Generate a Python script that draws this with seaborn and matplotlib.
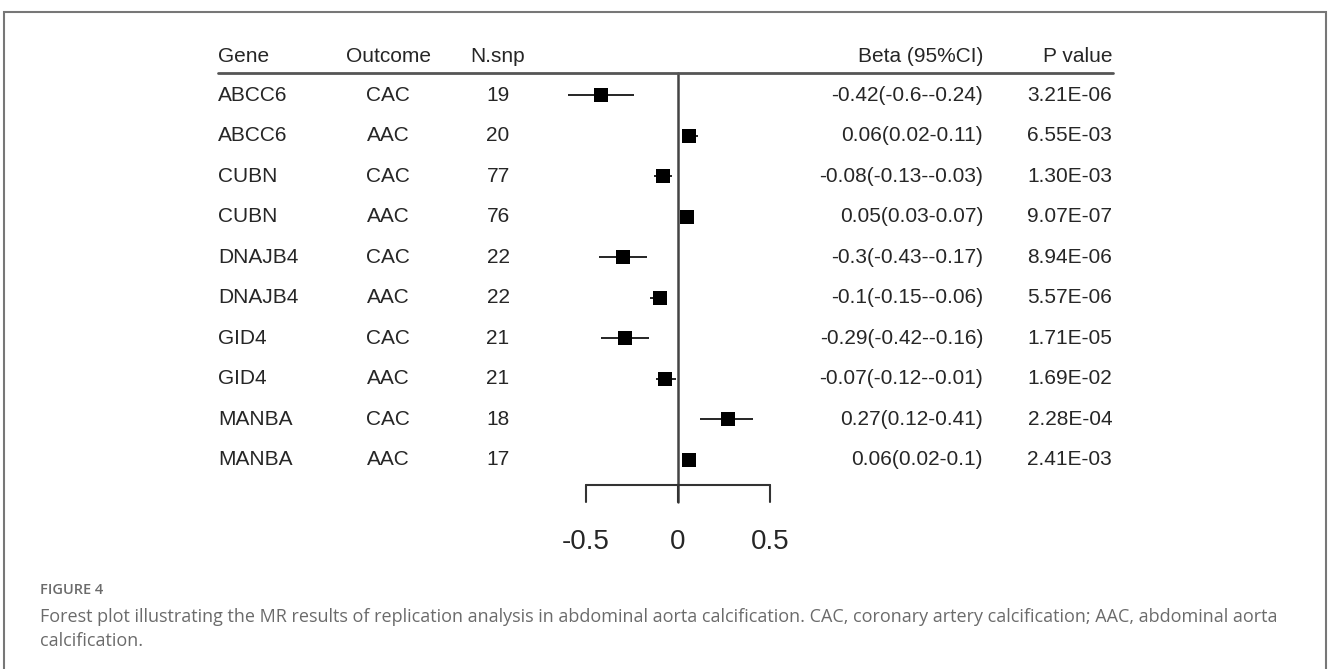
import matplotlib as mpl
import matplotlib.pyplot as plt
import seaborn as sns
import pandas as pd
import numpy as np
from matplotlib.patches import Rectangle

sns.set_style("white")
plt.rcParams['font.family'] = ['Liberation Sans', 'DejaVu Sans']

# Data
genes = ["ABCC6", "ABCC6", "CUBN", "CUBN", "DNAJB4", "DNAJB4", "GID4", "GID4", "MANBA", "MANBA"]
outcomes = ["CAC", "AAC", "CAC", "AAC", "CAC", "AAC", "CAC", "AAC", "CAC", "AAC"]
n_snp = [19, 20, 77, 76, 22, 22, 21, 21, 18, 17]
beta = [-0.42, 0.06, -0.08, 0.05, -0.3, -0.1, -0.29, -0.07, 0.27, 0.06]
ci_low = [-0.6, 0.02, -0.13, 0.03, -0.43, -0.15, -0.42, -0.12, 0.12, 0.02]
ci_high = [-0.24, 0.11, -0.03, 0.07, -0.17, -0.06, -0.16, -0.01, 0.41, 0.1]
beta_text = ["-0.42(-0.6--0.24)", "0.06(0.02-0.11)", "-0.08(-0.13--0.03)", "0.05(0.03-0.07)",
             "-0.3(-0.43--0.17)", "-0.1(-0.15--0.06)", "-0.29(-0.42--0.16)", "-0.07(-0.12--0.01)",
             "0.27(0.12-0.41)", "0.06(0.02-0.1)"]
p_values = ["3.21E-06", "6.55E-03", "1.30E-03", "9.07E-07", "8.94E-06",
            "5.57E-06", "1.71E-05", "1.69E-02", "2.28E-04", "2.41E-03"]
headers = ["Gene", "Outcome", "N.snp", "Beta (95%CI)", "P value"]
x_ticks = [-0.5, 0, 0.5]
x_tick_labels = ["-0.5", "0", "0.5"]

df = pd.DataFrame({"beta": beta, "low": ci_low, "high": ci_high, "row": np.arange(len(beta))})

# Font sizes
font_size_table = 15
font_size_ticks = 20

fig = plt.figure(figsize=(13.28, 6.69), dpi=100)
ax = fig.add_axes([0, 0, 1, 1])
ax.set_xlim(-3.685, 3.533)
ax.set_ylim(14.17, -2.346)
ax.axis("off")

# Column positions (in beta units)
x_gene, x_outcome, x_nsnp, x_beta, x_p = -2.5, -1.576, -0.978, 1.658, 2.36
y_header = -0.94
y_axis = 9.63

# Confidence intervals and point estimates
ax.hlines(df["row"], df["low"], df["high"], color="black", linewidth=1.2, zorder=2)
sns.scatterplot(data=df, x="beta", y="row", marker="s", s=105, color="black",
                edgecolor="black", linewidth=0, zorder=3, ax=ax, legend=False)

# Zero line and header rule
ax.plot([0, 0], [-0.543, 10.05], color="#444444", linewidth=1.8, zorder=1)
ax.plot([x_gene, 2.365], [-0.543, -0.543], color="#555555", linewidth=2)

# Bottom axis
ax.plot([x_ticks[0], x_ticks[-1]], [y_axis, y_axis], color="#333333", linewidth=1.5)
for t, lab in zip(x_ticks, x_tick_labels):
    ax.plot([t, t], [y_axis, 10.05], color="#333333", linewidth=1.5)
    ax.text(t, 11.04, lab, ha="center", va="center", fontsize=font_size_ticks)

# Header
ax.text(x_gene, y_header, headers[0], ha="left", va="center", fontsize=font_size_table)
ax.text(x_outcome, y_header, headers[1], ha="center", va="center", fontsize=font_size_table)
ax.text(x_nsnp, y_header, headers[2], ha="center", va="center", fontsize=font_size_table)
ax.text(x_beta, y_header, headers[3], ha="right", va="center", fontsize=font_size_table)
ax.text(x_p, y_header, headers[4], ha="right", va="center", fontsize=font_size_table)

# Table rows
for i in range(len(genes)):
    ax.text(x_gene, i, genes[i], ha="left", va="center", fontsize=font_size_table)
    ax.text(x_outcome, i, outcomes[i], ha="center", va="center", fontsize=font_size_table)
    ax.text(x_nsnp, i, str(n_snp[i]), ha="center", va="center", fontsize=font_size_table)
    ax.text(x_beta, i, beta_text[i], ha="right", va="center", fontsize=font_size_table)
    ax.text(x_p, i, p_values[i], ha="right", va="center", fontsize=font_size_table)

# Frame and caption
fig.patches.append(Rectangle((4 / 1328, -0.05), 1322 / 1328, 1.05 - 12 / 669,
                             transform=fig.transFigure, fill=False,
                             edgecolor="#777777", linewidth=1.5))
cap_color = "#6b6b6b"
cap_font = ["Open Sans", "DejaVu Sans"]
fig.text(40 / 1328, 1 - 590 / 669, "FIGURE 4", ha="left", va="center", fontsize=10.5,
         color=cap_color, family=cap_font, fontweight="semibold")
fig.text(40 / 1328, 1 - 617 / 669,
         "Forest plot illustrating the MR results of replication analysis in abdominal aorta calcification. "
         "CAC, coronary artery calcification; AAC, abdominal aorta",
         ha="left", va="center", fontsize=13, color=cap_color, family=cap_font)
fig.text(40 / 1328, 1 - 641 / 669, "calcification.", ha="left", va="center", fontsize=13,
         color=cap_color, family=cap_font)

plt.savefig("out.png", dpi=100)
plt.close()
